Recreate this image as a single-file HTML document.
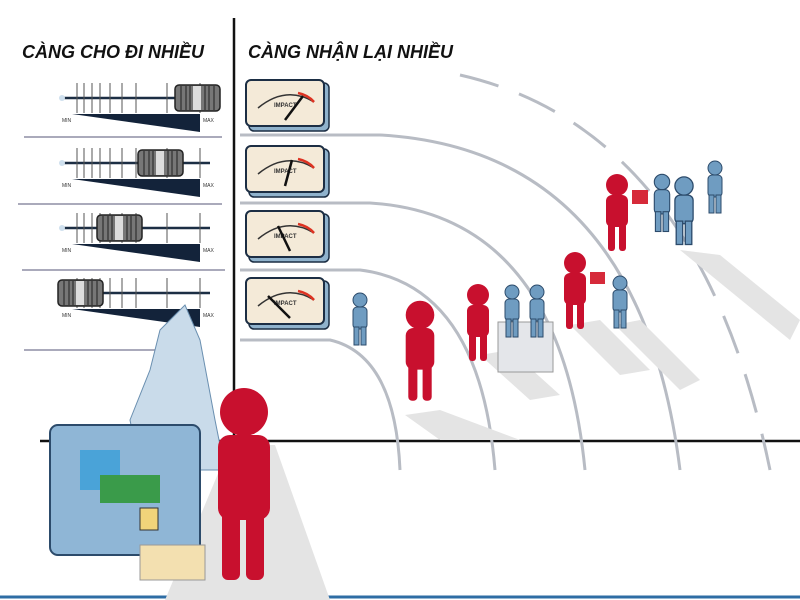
<!DOCTYPE html>
<html><head><meta charset="utf-8"><style>
html,body{margin:0;padding:0;background:#fff;width:800px;height:600px;overflow:hidden}
</style></head><body>
<svg width="800" height="600" viewBox="0 0 800 600" xmlns="http://www.w3.org/2000/svg" font-family="Liberation Sans, sans-serif">
<defs>
<g id="slider">
 <line x1="60" y1="0" x2="210" y2="0" stroke="#1c2e44" stroke-width="2.5"/>
 <circle cx="62" cy="0" r="3" fill="#cfe0ee"/>
 <g stroke="#555" stroke-width="1"><line x1="77" y1="-15" x2="77" y2="15"/><line x1="84" y1="-15" x2="84" y2="15"/><line x1="92" y1="-15" x2="92" y2="15"/><line x1="100" y1="-15" x2="100" y2="15"/><line x1="110" y1="-15" x2="110" y2="15"/><line x1="122" y1="-15" x2="122" y2="15"/><line x1="136" y1="-15" x2="136" y2="15"/><line x1="167" y1="-15" x2="167" y2="15"/><line x1="200" y1="-15" x2="200" y2="15"/></g>
 <polygon points="72,16 200,16 200,34" fill="#13233a"/>
 <text x="62" y="24" font-size="5" fill="#333">MIN</text><text x="203" y="24" font-size="5" fill="#333">MAX</text>
</g>
<g id="knob">
 <rect x="0" y="-13" width="45" height="26" rx="4" fill="#777" stroke="#222" stroke-width="1.5"/>
 <rect x="18" y="-12" width="8" height="24" fill="#ddd"/>
 <g stroke="#222" stroke-width="1"><line x1="6" y1="-12" x2="6" y2="12"/><line x1="11" y1="-12" x2="11" y2="12"/><line x1="15" y1="-12" x2="15" y2="12"/><line x1="30" y1="-12" x2="30" y2="12"/><line x1="34" y1="-12" x2="34" y2="12"/><line x1="39" y1="-12" x2="39" y2="12"/></g>
</g>
<g id="gauge">
 <rect x="3" y="3" width="80" height="48" rx="5" fill="#8fb2cc" stroke="#1c2e44" stroke-width="1.5"/>
 <rect x="0" y="0" width="78" height="46" rx="5" fill="#f4ead8" stroke="#1c2e44" stroke-width="2"/>
 <path d="M12 28 Q40 5 68 22" fill="none" stroke="#333" stroke-width="1.5"/>
 <path d="M52 13 Q62 15 68 22" fill="none" stroke="#d32" stroke-width="2.5"/>
 <text x="28" y="27" font-size="6" font-weight="bold" fill="#333">IMPACT</text>
</g>
<g id="red" fill="#c8102e">
 <circle cx="0" cy="0" r="11"/><rect x="-11" y="10" width="22" height="32" rx="6"/><rect x="-9" y="38" width="7" height="28" rx="3"/><rect x="2" y="38" width="7" height="28" rx="3"/>
</g>
<g id="blue" fill="#6f9cc1" stroke="#2c4b6b" stroke-width="1">
 <circle cx="0" cy="0" r="7"/><rect x="-7" y="7" width="14" height="22" rx="4"/><rect x="-6" y="27" width="5" height="18"/><rect x="1" y="27" width="5" height="18"/>
</g>
</defs>

<text x="22" y="58" font-size="18" font-weight="bold" font-style="italic" fill="#111">CÀNG CHO ĐI NHIỀU</text>
<text x="248" y="58" font-size="18" font-weight="bold" font-style="italic" fill="#111">CÀNG NHẬN LẠI NHIỀU</text>

<line x1="234" y1="18" x2="234" y2="445" stroke="#111" stroke-width="2.5"/>
<line x1="40" y1="441" x2="800" y2="441" stroke="#111" stroke-width="2.5"/>
<line x1="0" y1="597" x2="800" y2="597" stroke="#2e6da4" stroke-width="3"/>

<g transform="translate(0,98)"><use href="#slider"/><use href="#knob" x="175"/></g>
<g transform="translate(0,163)"><use href="#slider"/><use href="#knob" x="138"/></g>
<g transform="translate(0,228)"><use href="#slider"/><use href="#knob" x="97"/></g>
<g transform="translate(0,293)"><use href="#slider"/><use href="#knob" x="58"/></g>
<g stroke="#aab" stroke-width="2"><line x1="24" y1="137" x2="222" y2="137"/><line x1="18" y1="204" x2="222" y2="204"/><line x1="22" y1="270" x2="225" y2="270"/><line x1="24" y1="350" x2="160" y2="350"/></g>

<use href="#gauge" x="246" y="80"/>
<use href="#gauge" x="246" y="146"/>
<use href="#gauge" x="246" y="211"/>
<use href="#gauge" x="246" y="278"/>
<g stroke="#111" stroke-width="2.5">
 <line x1="285" y1="120" x2="303" y2="96"/>
 <line x1="285" y1="186" x2="292" y2="160"/>
 <line x1="290" y1="251" x2="278" y2="226"/>
 <line x1="290" y1="318" x2="268" y2="296"/>
</g>

<g fill="none" stroke="#b8bcc4" stroke-width="3">
 <path d="M460 75 Q700 130 770 470" stroke-dasharray="40 22"/>
 <path d="M240 135 L380 135 Q640 150 680 470"/>
 <path d="M240 203 L370 203 Q560 215 585 470"/>
 <path d="M240 270 L360 270 Q480 285 495 470"/>
 <path d="M240 340 L330 340 Q395 355 400 470"/>
</g>

<g fill="#e4e4e4">
 <polygon points="230,445 275,445 330,600 165,600"/>
 <polygon points="405,415 440,410 520,440 440,440"/>
 <polygon points="480,355 510,350 560,395 530,400"/>
 <polygon points="570,325 600,320 650,370 620,375"/>
 <polygon points="615,325 640,320 700,380 680,390"/>
 <polygon points="680,250 720,255 800,320 790,340"/>
</g>

<!-- treasure pile -->
<polygon points="160,330 185,305 200,340 215,420 225,470 140,470 130,420 150,370" fill="#c9dbea" stroke="#6a8fb0"/>
<rect x="50" y="425" width="150" height="130" rx="8" fill="#8fb6d6" stroke="#2c4b6b" stroke-width="2"/>
<rect x="80" y="450" width="40" height="40" fill="#4aa3d8"/>
<rect x="100" y="475" width="60" height="28" fill="#3a9b4a"/>
<rect x="140" y="545" width="65" height="35" fill="#f3e0b0" stroke="#999"/>
<rect x="140" y="508" width="18" height="22" fill="#f1d47a" stroke="#333"/>

<g fill="#c8102e">
 <circle cx="244" cy="412" r="24"/><rect x="218" y="435" width="52" height="85" rx="12"/><rect x="222" y="510" width="18" height="70" rx="6"/><rect x="246" y="510" width="18" height="70" rx="6"/>
</g>

<use href="#blue" x="360" y="300"/>
<g transform="translate(420,315) scale(1.3)"><use href="#red"/></g>
<use href="#red" x="478" y="295"/>
<rect x="498" y="322" width="55" height="50" fill="#e4e6ea" stroke="#999"/>
<use href="#blue" x="512" y="292"/><use href="#blue" x="537" y="292"/>
<use href="#red" x="575" y="263"/>
<rect x="590" y="272" width="15" height="12" fill="#d62a3a"/>
<use href="#blue" x="620" y="283"/>
<use href="#red" x="617" y="185"/>
<rect x="632" y="190" width="16" height="14" fill="#d62a3a"/>
<g transform="translate(662,182) scale(1.1)"><use href="#blue"/></g>
<g transform="translate(684,186) scale(1.3)"><use href="#blue"/></g>
<use href="#blue" x="715" y="168"/>
</svg>
</body></html>
